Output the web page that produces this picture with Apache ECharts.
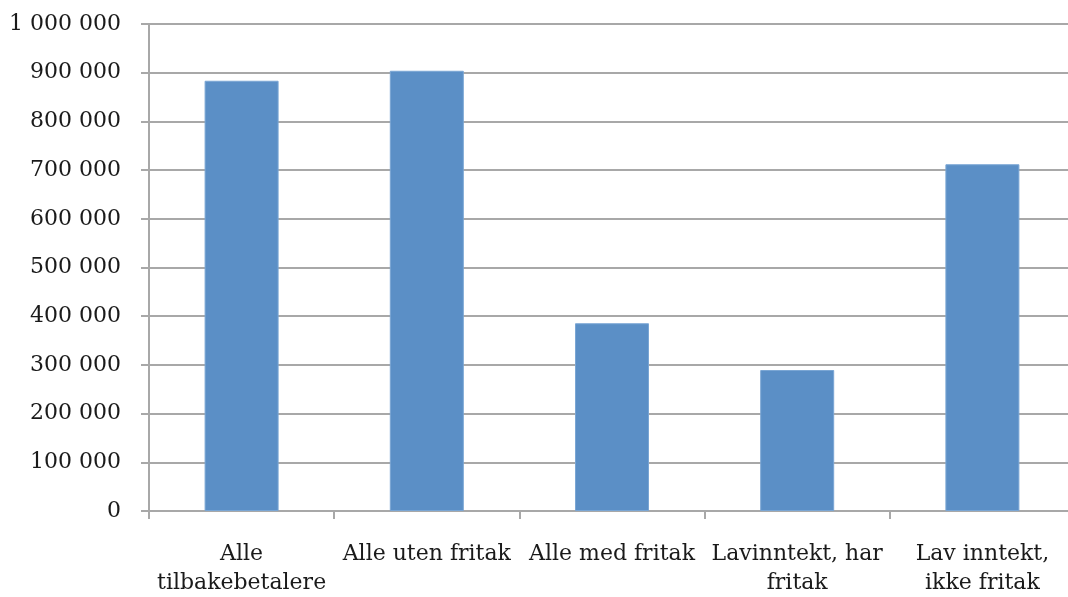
<!DOCTYPE html>
<html>
<head>
<meta charset="utf-8">
<script src="https://cdn.jsdelivr.net/npm/echarts@6/dist/echarts.min.js"></script>
<style>
html,body{margin:0;padding:0;background:#fff;}
#chart{width:1068px;height:597px;}
</style>
</head>
<body>
<div id="chart"></div>
<script>
const categories = ["Alle\ntilbakebetalere", "Alle uten fritak", "Alle med fritak", "Lavinntekt, har\nfritak", "Lav inntekt,\nikke fritak"];
const values = [883500, 904000, 385500, 289500, 712000];
const yTicks = [0, 100000, 200000, 300000, 400000, 500000, 600000, 700000, 800000, 900000, 1000000];

function fmt(v){
  return String(v).replace(/\B(?=(\d{3})+(?!\d))/g, ' ');
}

const chart = echarts.init(document.getElementById('chart'), null, {renderer:'canvas'});
const font = 'DejaVu Serif';
chart.setOption({
  animation:false,
  backgroundColor:'#ffffff',
  grid:{left:149, width:926, top:24, bottom:86, containLabel:false, outerBoundsMode:'none'},
  xAxis:{
    type:'category',
    data:categories,
    axisLine:{show:true, lineStyle:{color:'#a8a8a8', width:2}},
    axisTick:{show:true, alignWithLabel:false, length:8, lineStyle:{color:'#a8a8a8', width:2}},
    axisLabel:{interval:0, margin:29, color:'#1a1a1a', fontFamily:font, fontSize:22, lineHeight:29}
  },
  yAxis:{
    type:'value',
    min:yTicks[0], max:yTicks[yTicks.length-1], interval:yTicks[1]-yTicks[0],
    axisLine:{show:true, lineStyle:{color:'#a8a8a8', width:2}},
    axisTick:{show:true, length:8, lineStyle:{color:'#a8a8a8', width:2}},
    splitLine:{show:true, lineStyle:{color:'#a8a8a8', width:2}},
    axisLabel:{margin:28, color:'#1a1a1a', fontFamily:font, fontSize:22, formatter:fmt}
  },
  series:[{
    type:'bar',
    data:values,
    barWidth:74,
    itemStyle:{color:'#5b8fc6', borderColor:'#7aa6d4', borderWidth:1}
  }]
});
</script>
</body>
</html>
